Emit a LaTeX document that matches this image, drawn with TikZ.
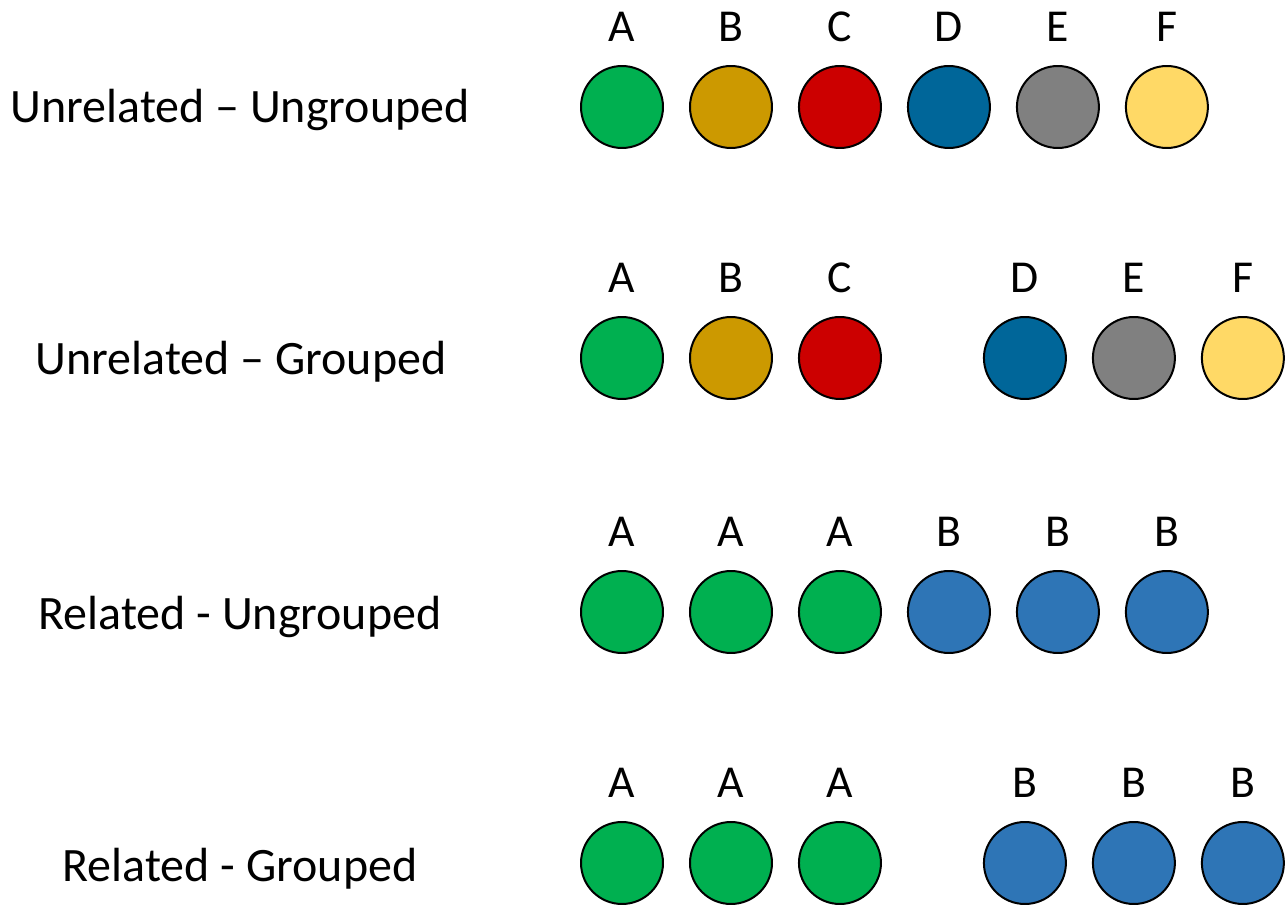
\documentclass[tikz,border=0pt]{standalone}
\usepackage{fontspec}
\setmainfont{Carlito}
\usetikzlibrary{positioning}
\definecolor{cgreen}{HTML}{00B050}
\definecolor{cgold}{HTML}{CC9900}
\definecolor{cred}{HTML}{CC0000}
\definecolor{cblue}{HTML}{006699}
\definecolor{cgray}{HTML}{808080}
\definecolor{cyellow}{HTML}{FFD966}
\definecolor{crel}{HTML}{2E75B6}
\tikzstyle{ball} = [circle, draw=black, line width=0.04cm, minimum size=1.64cm, inner sep=0pt]
\tikzstyle{letter} = [inner sep=0pt, font=\fontsize{26}{30}\selectfont]
\tikzstyle{rowname} = [inner sep=0pt, anchor=base, font=\fontsize{27.3}{32}\selectfont]

\begin{document}
\begin{tikzpicture}[x=0.02cm, y=-0.02cm, node distance = 0.46cm and 0.5cm]
		\useasboundingbox (0,0) rectangle (1285,905);
		% Row names
		\node[rowname] (n1) at (240,123) {Unrelated – Ungrouped};
		\node[rowname] (n2) at (241,375) {Unrelated – Grouped};
		\node[rowname] (n3) at (240,629) {Related - Ungrouped};
		\node[rowname] (n4) at (240,881) {Related - Grouped};
		% Unrelated - Ungrouped
		\node[ball, fill=cgreen] (ua) at (622,107) {};
		\node[ball, fill=cgold] (ub) [right=of ua] {};
		\node[ball, fill=cred] (uc) [right=of ub] {};
		\node[ball, fill=cblue] (ud) [right=of uc] {};
		\node[ball, fill=cgray] (ue) [right=of ud] {};
		\node[ball, fill=cyellow] (uf) [right=of ue] {};
		% Unrelated - Grouped
		\node[ball, fill=cgreen] (ga) at (622,358) {};
		\node[ball, fill=cgold] (gb) [right=of ga] {};
		\node[ball, fill=cred] (gc) [right=of gb] {};
		\node[ball, fill=cblue] (gd) [right=2.02cm of gc] {};
		\node[ball, fill=cgray] (ge) [right=of gd] {};
		\node[ball, fill=cyellow] (gf) [right=of ge] {};
		% Related - Ungrouped
		\node[ball, fill=cgreen] (ra) at (622,612) {};
		\node[ball, fill=cgreen] (rb) [right=of ra] {};
		\node[ball, fill=cgreen] (rc) [right=of rb] {};
		\node[ball, fill=crel] (rd) [right=of rc] {};
		\node[ball, fill=crel] (re) [right=of rd] {};
		\node[ball, fill=crel] (rf) [right=of re] {};
		% Related - Grouped
		\node[ball, fill=cgreen] (sa) at (622,863) {};
		\node[ball, fill=cgreen] (sb) [right=of sa] {};
		\node[ball, fill=cgreen] (sc) [right=of sb] {};
		\node[ball, fill=crel] (sd) [right=2.02cm of sc] {};
		\node[ball, fill=crel] (se) [right=of sd] {};
		\node[ball, fill=crel] (sf) [right=of se] {};
		% Letters
		\node[letter, above=of ua] {A};
		\node[letter, above=of ub] {B};
		\node[letter, above=of uc] {C};
		\node[letter, above=of ud] {D};
		\node[letter, above=of ue] {E};
		\node[letter, above=of uf] {F};
		\node[letter, above=of ga] {A};
		\node[letter, above=of gb] {B};
		\node[letter, above=of gc] {C};
		\node[letter, above=of gd] {D};
		\node[letter, above=of ge] {E};
		\node[letter, above=of gf] {F};
		\node[letter, above=of ra] {A};
		\node[letter, above=of rb] {A};
		\node[letter, above=of rc] {A};
		\node[letter, above=of rd] {B};
		\node[letter, above=of re] {B};
		\node[letter, above=of rf] {B};
		\node[letter, above=of sa] {A};
		\node[letter, above=of sb] {A};
		\node[letter, above=of sc] {A};
		\node[letter, above=of sd] {B};
		\node[letter, above=of se] {B};
		\node[letter, above=of sf] {B};
	\end{tikzpicture}
\end{document}
